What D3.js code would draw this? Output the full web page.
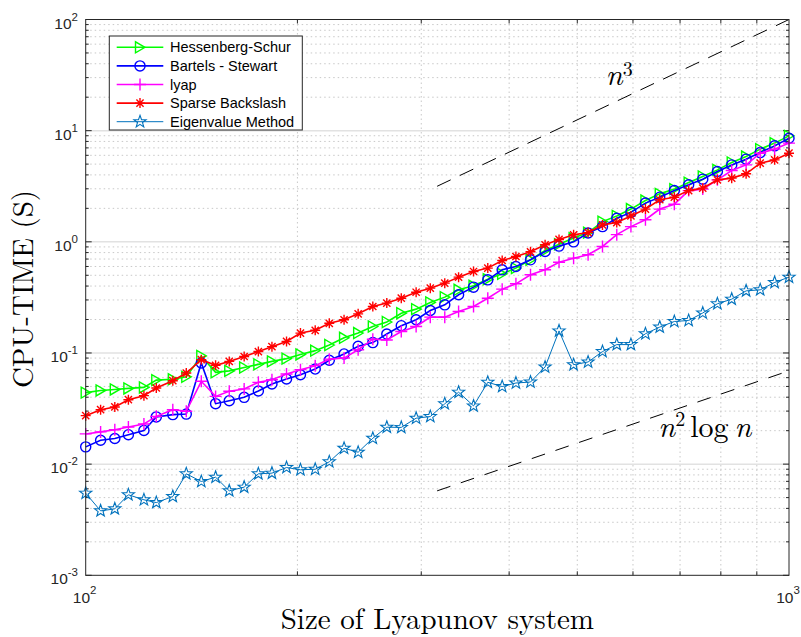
<!DOCTYPE html>
<html>
<head>
<meta charset="utf-8">
<script src="https://cdn.jsdelivr.net/npm/d3@7"></script>
<style>
  body { margin: 0; background: #fff; }
  svg { display: block; }
</style>
</head>
<body>
<div id="chart"></div>
<script>
const width = 801,
    height = 637

// plot box
const plotLeft = 85.7, plotRight = 789, plotTop = 19.5, plotBottom = 575.3

// sizes of the Lyapunov system (log spaced, 50 points)
const sizes = [100, 105, 110, 115, 121, 126, 133, 139, 146, 153,
  160, 168, 176, 184, 193, 202, 212, 222, 233, 244,
  256, 268, 281, 295, 309, 324, 339, 356, 373, 391,
  409, 429, 450, 471, 494, 518, 543, 569, 596, 625,
  655, 687, 720, 754, 791, 829, 869, 910, 954, 1000]

const hessenbergSchur = [0.044, 0.046, 0.047, 0.048, 0.049, 0.057, 0.058, 0.061, 0.094, 0.067,
  0.069, 0.074, 0.079, 0.084, 0.089, 0.097, 0.105, 0.118, 0.137, 0.151,
  0.173, 0.19, 0.228, 0.248, 0.285, 0.318, 0.37, 0.402, 0.461, 0.515,
  0.58, 0.689, 0.835, 0.95, 1.08, 1.21, 1.52, 1.71, 1.97, 2.35,
  2.70, 2.98, 3.41, 3.87, 4.44, 5.17, 5.85, 6.82, 7.73, 8.98]

const bartelsStewart = [0.0143, 0.0164, 0.017, 0.0184, 0.0201, 0.0266, 0.0279, 0.0282, 0.0813, 0.035,
  0.0372, 0.0399, 0.0455, 0.0526, 0.0583, 0.0637, 0.0717, 0.086, 0.098, 0.115,
  0.124, 0.148, 0.176, 0.199, 0.241, 0.271, 0.334, 0.391, 0.455, 0.56,
  0.6, 0.689, 0.818, 0.915, 1.0, 1.2, 1.37, 1.63, 1.84, 2.23,
  2.52, 2.89, 3.26, 3.66, 4.29, 4.92, 5.54, 6.35, 7.3, 8.55]

const lyap = [0.0187, 0.0195, 0.0204, 0.0216, 0.023, 0.0269, 0.0309, 0.0299, 0.0556, 0.0407,
  0.0452, 0.0475, 0.0544, 0.0575, 0.0647, 0.0708, 0.0769, 0.088, 0.09, 0.107,
  0.133, 0.131, 0.156, 0.173, 0.21, 0.21, 0.236, 0.262, 0.311, 0.375,
  0.419, 0.505, 0.56, 0.655, 0.713, 0.764, 0.908, 1.16, 1.37, 1.58,
  1.97, 2.18, 2.89, 2.98, 3.61, 4.38, 4.92, 6.27, 6.82, 7.73]

const sparseBackslash = [0.0273, 0.0309, 0.0327, 0.038, 0.0413, 0.0484, 0.0563, 0.066, 0.087, 0.0774,
  0.084, 0.093, 0.103, 0.114, 0.127, 0.151, 0.16, 0.185, 0.199, 0.225,
  0.262, 0.281, 0.311, 0.352, 0.383, 0.425, 0.481, 0.541, 0.58, 0.679,
  0.738, 0.813, 0.94, 1.05, 1.156, 1.21, 1.42, 1.49, 1.71, 1.97,
  2.39, 2.52, 2.89, 3.04, 3.61, 3.74, 4.09, 5.1, 5.46, 6.27]

const eigenvalueMethod = [0.00548, 0.0038, 0.00396, 0.0053, 0.00478, 0.00451, 0.00512, 0.00818, 0.00698, 0.00763,
  0.00575, 0.00621, 0.00818, 0.0083, 0.00932, 0.0089, 0.009, 0.0105, 0.0139, 0.0128,
  0.0171, 0.0215, 0.0214, 0.0259, 0.0268, 0.0349, 0.0444, 0.0334, 0.0545, 0.0499,
  0.0537, 0.0548, 0.0748, 0.158, 0.0785, 0.083, 0.103, 0.119, 0.119, 0.149,
  0.171, 0.192, 0.196, 0.229, 0.277, 0.305, 0.362, 0.370, 0.431, 0.481]

// guide lines n^3 and n^2 log n
const guideN = [316, 1000]
const guideCube = [3.16, 100]
const guideN2logN = [0.00575, 0.0691]

const xTicks = [100, 1000]
const xTickExp = ['2', '3']
const yTicks = [1e-3, 1e-2, 1e-1, 1, 10, 100]
const yTickExp = ['-3', '-2', '-1', '0', '1', '2']

const series = [
  { name: 'Hessenberg-Schur', values: hessenbergSchur, color: '#00ff00', marker: 'tri', lw: 1.6 },
  { name: 'Bartels - Stewart', values: bartelsStewart, color: '#0000ff', marker: 'circle', lw: 1.6 },
  { name: 'lyap', values: lyap, color: '#ff00ff', marker: 'plus', lw: 1.6 },
  { name: 'Sparse Backslash', values: sparseBackslash, color: '#ff0000', marker: 'aster', lw: 1.6 },
  { name: 'Eigenvalue Method', values: eigenvalueMethod, color: '#0072bd', marker: 'star', lw: 1 }
]

const x = d3.scaleLog().domain([100, 1000]).range([plotLeft, plotRight])
const y = d3.scaleLog().domain([1e-3, 1e2]).range([plotBottom, plotTop])

const svg = d3.select('#chart')
  .append('svg')
    .attr('width', width)
    .attr('height', height)
    .attr('viewBox', `0 0 ${width} ${height}`)

// minor values per decade
const minorX = d3.range(2, 10).map(k => k * 100)
const minorY = []
for (let d = -3; d < 2; d++) {
  for (let k = 2; k < 10; k++) minorY.push(k * Math.pow(10, d))
}

// grid
const grid = svg.append('g')
grid.selectAll('.gmy')
  .data(minorY)
  .join('line')
  .attr('x1', plotLeft).attr('x2', plotRight)
  .attr('y1', d => y(d)).attr('y2', d => y(d))
  .attr('stroke', '#c8c8c8')
  .attr('stroke-width', 1)
  .attr('stroke-dasharray', '1.5,3')
grid.selectAll('.gmx')
  .data(minorX)
  .join('line')
  .attr('y1', plotTop).attr('y2', plotBottom)
  .attr('x1', d => x(d)).attr('x2', d => x(d))
  .attr('stroke', '#c8c8c8')
  .attr('stroke-width', 1)
  .attr('stroke-dasharray', '1.5,3')
grid.selectAll('.gMy')
  .data(yTicks.slice(1, -1))
  .join('line')
  .attr('x1', plotLeft).attr('x2', plotRight)
  .attr('y1', d => y(d)).attr('y2', d => y(d))
  .attr('stroke', '#e2e2e2')
  .attr('stroke-width', 1.5)

// ticks (inside, on all four sides)
const ticks = svg.append('g').attr('stroke', '#262626').attr('stroke-width', 1)
minorX.forEach(v => {
  ticks.append('line').attr('x1', x(v)).attr('x2', x(v)).attr('y1', plotBottom).attr('y2', plotBottom - 4)
  ticks.append('line').attr('x1', x(v)).attr('x2', x(v)).attr('y1', plotTop).attr('y2', plotTop + 4)
})
minorY.forEach(v => {
  ticks.append('line').attr('y1', y(v)).attr('y2', y(v)).attr('x1', plotLeft).attr('x2', plotLeft + 3)
  ticks.append('line').attr('y1', y(v)).attr('y2', y(v)).attr('x1', plotRight).attr('x2', plotRight - 3)
})
yTicks.forEach(v => {
  ticks.append('line').attr('y1', y(v)).attr('y2', y(v)).attr('x1', plotLeft).attr('x2', plotLeft + 6)
  ticks.append('line').attr('y1', y(v)).attr('y2', y(v)).attr('x1', plotRight).attr('x2', plotRight - 6)
})

// guide lines
const guideLine = d3.line()
  .x(d => x(d[0]))
  .y(d => y(d[1]))
svg.append('path')
  .attr('d', guideLine(d3.zip(guideN, guideCube)))
  .attr('fill', 'none')
  .attr('stroke', '#000')
  .attr('stroke-width', 1)
  .attr('stroke-dasharray', '15,10')
svg.append('path')
  .attr('d', guideLine(d3.zip(guideN, guideN2logN)))
  .attr('fill', 'none')
  .attr('stroke', '#000')
  .attr('stroke-width', 1)
  .attr('stroke-dasharray', '14,11')

// marker shapes
function markerPath(type) {
  if (type === 'tri') return 'M5,0L-4.5,-5.5L-4.5,5.5Z'
  if (type === 'circle') return d3.symbol(d3.symbolCircle, 80)()
  if (type === 'plus') return 'M-6,0H6M0,-6V6'
  if (type === 'aster') return 'M-5,0H5M0,-5V5M-3.6,-3.6L3.6,3.6M-3.6,3.6L3.6,-3.6'
  if (type === 'star') {
    let p = ''
    for (let i = 0; i < 10; i++) {
      const r = i % 2 === 0 ? 6.4 : 2.6
      const a = -Math.PI / 2 + i * Math.PI / 5
      p += (i === 0 ? 'M' : 'L') + (r * Math.cos(a)).toFixed(2) + ',' + (r * Math.sin(a)).toFixed(2)
    }
    return p + 'Z'
  }
}

const line = d3.line()
  .x(d => x(d[0]))
  .y(d => y(d[1]))

const plot = svg.append('g')
series.forEach(s => {
  const pts = d3.zip(sizes, s.values)
  const g = plot.append('g')
  g.append('path')
    .attr('d', line(pts))
    .attr('fill', 'none')
    .attr('stroke', s.color)
    .attr('stroke-width', s.lw)
  g.selectAll('path.m')
    .data(pts)
    .join('path')
    .attr('class', 'm')
    .attr('d', markerPath(s.marker))
    .attr('transform', d => `translate(${x(d[0])},${y(d[1])})`)
    .attr('fill', 'none')
    .attr('stroke', s.color)
    .attr('stroke-width', s.marker === 'star' ? 1.1 : 1.4)
})

// axes box
svg.append('rect')
  .attr('x', plotLeft).attr('y', plotTop)
  .attr('width', plotRight - plotLeft).attr('height', plotBottom - plotTop)
  .attr('fill', 'none')
  .attr('stroke', '#262626')
  .attr('stroke-width', 1)

// tick labels
const tickFont = "'Liberation Sans', Arial, sans-serif"
yTicks.forEach((v, i) => {
  const t = svg.append('text')
    .attr('x', 78)
    .attr('y', y(v) + 9)
    .attr('text-anchor', 'end')
    .style('font-family', tickFont)
    .style('font-size', '15.5px')
    .style('fill', '#262626')
  t.append('tspan').text('10')
  t.append('tspan').attr('dy', -8).style('font-size', '11.5px').text(yTickExp[i])
})
xTicks.forEach((v, i) => {
  const t = svg.append('text')
    .attr('x', x(v) - 1)
    .attr('y', 602.7)
    .attr('text-anchor', 'middle')
    .style('font-family', tickFont)
    .style('font-size', '15.5px')
    .style('fill', '#262626')
  t.append('tspan').text('10')
  t.append('tspan').attr('dy', -8.5).style('font-size', '11.5px').text(xTickExp[i])
})

// axis labels
const serif = "'Latin Modern Roman', 'CMU Serif', 'Liberation Serif', 'Times New Roman', serif"
svg.append('text')
  .attr('x', (plotLeft + plotRight) / 2)
  .attr('y', 629)
  .attr('text-anchor', 'middle')
  .style('font-family', serif)
  .style('font-size', '29px')
  .style('fill', '#000')
  .text('Size of Lyapunov system')
svg.append('text')
  .attr('transform', `translate(33, 289) rotate(-90)`)
  .attr('text-anchor', 'middle')
  .style('font-family', serif)
  .style('font-size', '29px')
  .style('fill', '#000')
  .text('CPU-TIME (S)')

// guide labels
const lab1 = svg.append('text')
  .attr('x', x(549)).attr('y', y(25.8))
  .style('font-family', serif)
  .style('font-size', '30px')
lab1.append('tspan').style('font-style', 'italic').text('n')
lab1.append('tspan').attr('dy', -9).style('font-size', '20px').text('3')

const lab2 = svg.append('text')
  .attr('x', x(652)).attr('y', y(0.0177))
  .style('font-family', serif)
  .style('font-size', '30px')
lab2.append('tspan').style('font-style', 'italic').text('n')
lab2.append('tspan').attr('dy', -11).style('font-size', '20px').text('2')
lab2.append('tspan').attr('dy', 11).attr('dx', 5).text('log')
lab2.append('tspan').attr('dx', 6).style('font-style', 'italic').text('n')

// legend
const legend = svg.append('g')
legend.append('rect')
  .attr('x', 109.3).attr('y', 36)
  .attr('width', 193).attr('height', 94)
  .attr('fill', '#fff')
  .attr('stroke', '#262626')
  .attr('stroke-width', 1)
series.forEach((s, i) => {
  const ry = 47.3 + i * 18.6
  legend.append('line')
    .attr('x1', 116.7).attr('x2', 163.3)
    .attr('y1', ry).attr('y2', ry)
    .attr('stroke', s.color)
    .attr('stroke-width', s.lw)
  legend.append('path')
    .attr('d', markerPath(s.marker))
    .attr('transform', `translate(140,${ry})`)
    .attr('fill', 'none')
    .attr('stroke', s.color)
    .attr('stroke-width', s.marker === 'star' ? 1.1 : 1.4)
  legend.append('text')
    .attr('x', 170).attr('y', ry + 5)
    .style('font-family', tickFont)
    .style('font-size', '14.5px')
    .style('fill', '#000')
    .text(s.name)
})
</script>
</body>
</html>
